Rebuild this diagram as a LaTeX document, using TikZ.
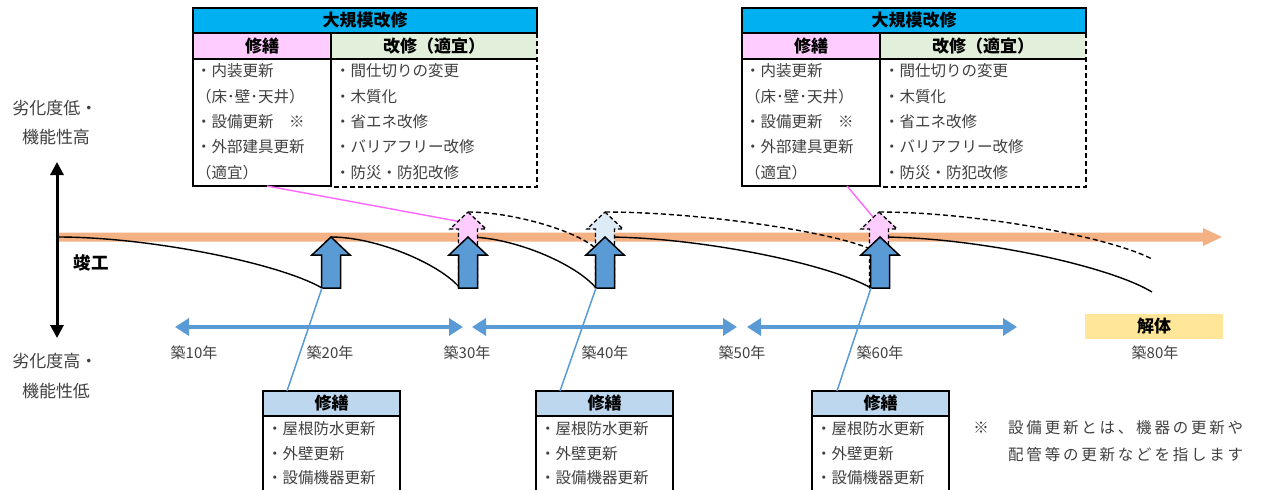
\documentclass[tikz,border=0pt]{standalone}
\usepackage{fontspec}
\setmainfont{Noto Sans CJK JP}
\newfontfamily\notefont[LetterSpace=18]{Noto Sans CJK JP}
\usetikzlibrary{arrows.meta}
\definecolor{cyanT}{HTML}{00B0F0}
\definecolor{pinkH}{HTML}{FFCCFF}
\definecolor{greenH}{HTML}{E2EFDA}
\definecolor{blueH}{HTML}{BDD7EE}
\definecolor{arrowBlue}{HTML}{5B9BD5}
\definecolor{lightBlue}{HTML}{DDEBF7}
\definecolor{barOrange}{HTML}{F4B183}
\definecolor{yellowH}{HTML}{FFE699}
\definecolor{pinkLine}{HTML}{FF66FF}
\definecolor{txtgray}{HTML}{404040}
\tikzset{
  boxline/.style={draw=black, line width=1.2pt},
  dashline/.style={draw=black, line width=1.5pt, dash pattern=on 5pt off 3pt},
  curveline/.style={draw=black, line width=1.4pt},
  dcurveline/.style={curveline, dash pattern=on 5pt off 3pt},
  blk/.style={fill=arrowBlue, draw=black, line width=1.5pt, line join=miter},
  dblk/.style={draw=black, line width=1.3pt, dash pattern=on 4pt off 2.5pt},
  pinkconn/.style={draw=pinkLine, line width=1.4pt},
  blueconn/.style={draw=arrowBlue, line width=1.5pt},
  tline/.style={draw=arrowBlue, line width=4pt, {Triangle[length=14pt,width=17pt]}-{Triangle[length=14pt,width=17pt]}},
  txt/.style={anchor=west, inner sep=0pt, font=\fontsize{15.5}{15.5}\selectfont, text=txtgray},
  hdr/.style={inner sep=0pt, font=\bfseries\fontsize{17}{17}\selectfont, text=black},
  yl/.style={inner sep=0pt, font=\fontsize{15}{15}\selectfont, text=txtgray},
  axl/.style={inner sep=0pt, font=\fontsize{17}{17}\selectfont, text=txtgray},
}
% block up-arrow: style, x, tip y, bottom y, head height, head half width
\newcommand\blkarrow[6]{%
  \draw[#1] (#2,#3) -- ({#2+#6},{#3+#5}) -- ({#2+9.5},{#3+#5}) -- ({#2+9.5},#4)
    -- ({#2-9.5},#4) -- ({#2-9.5},{#3+#5}) -- ({#2-#6},{#3+#5}) -- cycle;}
% decay curve: style, xs, ys, xe, ye
\newcommand\decay[5]{%
  \draw[#1] (#2,#3) .. controls ({#2+0.35*(#4-#2)},#3) and ({#2+0.84*(#4-#2)},{#3+0.52*(#5-#3)}) .. (#4,#5);}
% large renovation box: left x, name
\newcommand\renobox[2]{%
  \begin{scope}[shift={(#1,0)}]
    \fill[cyanT] (0,8) rectangle (344,33);
    \fill[pinkH] (0,33) rectangle (138,59);
    \fill[greenH] (138,33) rectangle (344,59);
    \draw[boxline] (0,8) rectangle (344,33);
    \draw[boxline] (0,33) rectangle (138,186);
    \draw[boxline] (138,59) -- (344,59);
    \draw[boxline] (0,59) -- (138,59);
    \draw[dashline] (344,33) -- (344,187) -- (138,187);
    \node[hdr] (#2t) at (172,20.5) {大規模改修};
    \node[hdr] (#2l) at (69,46) {修繕};
    \node[hdr] (#2r) at (241,46) {改修（適宜）};
    \node[txt] (#2a1) at (3,71) {・内装更新};
    \node[txt] (#2a2) at (3,96.5) {（床･壁･天井）};
    \node[txt] (#2a3) at (3,122) {・設備更新　※};
    \node[txt] (#2a4) at (3,147) {・外部建具更新};
    \node[txt] (#2a5) at (3,172.5) {（適宜）};
    \node[txt] (#2b1) at (142,71) {・間仕切りの変更};
    \node[txt] (#2b2) at (142,96.5) {・木質化};
    \node[txt] (#2b3) at (142,122) {・省エネ改修};
    \node[txt] (#2b4) at (142,147) {・バリアフリー改修};
    \node[txt] (#2b5) at (142,172.5) {・防災・防犯改修};
  \end{scope}}
% repair box: left x, name
\newcommand\repbox[2]{%
  \begin{scope}[shift={(#1,0)}]
    \fill[blueH] (0,391) rectangle (137,416);
    \draw[boxline] (0,500) -- (0,391) -- (137,391) -- (137,500);
    \draw[boxline] (0,416) -- (137,416);
    \node[hdr] (#2h) at (68.5,403.5) {修繕};
    \node[txt] (#2a) at (4,429) {・屋根防水更新};
    \node[txt] (#2b) at (4,453.5) {・外壁更新};
    \node[txt] (#2c) at (4,478) {・設備機器更新};
  \end{scope}}
\begin{document}
\begin{tikzpicture}[x=1pt,y=-1pt]
\clip (0,0) rectangle (1262,490);
\fill[white] (0,0) rectangle (1262,490);

% orange time bar
\fill[barOrange] (57,232.5) -- (1203,232.5) -- (1203,228) -- (1222,237) -- (1203,246) -- (1203,241.5) -- (57,241.5) -- cycle;

% solid decay curves
\decay{curveline}{58}{237}{322}{288}
\decay{curveline}{331}{237}{460}{288}
\decay{curveline}{468}{237}{596}{288}
\decay{curveline}{605}{237}{871}{288}
\decay{curveline}{880}{237}{1152}{292}

% dashed curves after large renovation
\decay{dcurveline}{468}{212}{594}{247}
\decay{dcurveline}{605}{212}{868}{248}
\decay{dcurveline}{879}{212}{1152}{259}

% boxes (top)
\renobox{193}{LA}
\renobox{742}{LB}

% pink connectors
\coordinate (pA) at (267,186);
\coordinate (pAe) at (462,222);
\coordinate (pB) at (847,186);
\coordinate (pBe) at (873,217);
\draw[pinkconn] (pA) -- (pAe);
\draw[pinkconn] (pB) -- (pBe);

% dashed block arrows (large renovation)
\blkarrow{dblk, fill=pinkH}{468}{212}{288}{17}{18}
\blkarrow{dblk, fill=lightBlue}{605}{212}{288}{17}{18}
\blkarrow{dblk, fill=pinkH}{879}{212}{288}{17}{18}

% solid block arrows (repair)
\blkarrow{blk}{331}{237}{288}{18}{19}
\blkarrow{blk}{468}{237}{288}{18}{19}
\blkarrow{blk}{605}{237}{288}{18}{19}
\blkarrow{blk}{880}{237}{288}{18}{19}
\coordinate (r20) at (322,288);
\coordinate (r40) at (596,288);
\coordinate (r60) at (871,288);

% repair boxes
\repbox{263}{RA}
\repbox{536}{RB}
\repbox{812}{RC}
\coordinate (cA) at (287,391);
\coordinate (cB) at (560,391);
\coordinate (cC) at (837,391);
\draw[blueconn] (cA) -- (r20);
\draw[blueconn] (cB) -- (r40);
\draw[blueconn] (cC) -- (r60);

% period arrows
\coordinate (t1a) at (175,327); \coordinate (t1b) at (463,327);
\coordinate (t2a) at (472,327); \coordinate (t2b) at (737,327);
\coordinate (t3a) at (747,327); \coordinate (t3b) at (1017,327);
\draw[tline] (t1a) -- (t1b);
\draw[tline] (t2a) -- (t2b);
\draw[tline] (t3a) -- (t3b);

% year labels
\node[yl] (y10) at (194,353) {築10年};
\node[yl] (y20) at (330,353) {築20年};
\node[yl] (y30) at (467,353) {築30年};
\node[yl] (y40) at (605,353) {築40年};
\node[yl] (y50) at (742,353) {築50年};
\node[yl] (y60) at (880,353) {築60年};
\node[yl] (y80) at (1155,353) {築80年};

% demolition
\fill[yellowH] (1085,314) rectangle (1223,339);
\node[hdr] (kaitai) at (1154,326.5) {解体};

% vertical axis
\coordinate (axB) at (57,338);
\coordinate (axT) at (57,162);
\draw[line width=3pt, {Triangle[length=13pt,width=13pt]}-{Triangle[length=13pt,width=13pt]}] (axB) -- (axT);
\node[axl] (ax1) at (55,108) {劣化度低・};
\node[axl] (ax2) at (56,137) {機能性高};
\node[axl] (ax3) at (55,361) {劣化度高・};
\node[axl] (ax4) at (56,391) {機能性低};
\node[inner sep=0pt, font=\bfseries\fontsize{17.5}{17.5}\selectfont] (shunko) at (91,263) {竣工};

% note
\node[yl, font=\fontsize{15.5}{15.5}\selectfont] (kome) at (981,428) {※};
\node[anchor=west, inner sep=0pt, text=txtgray, font=\notefont\fontsize{15.5}{15.5}\selectfont] (note1) at (1008,428) {設備更新とは、機器の更新や};
\node[anchor=west, inner sep=0pt, text=txtgray, font=\notefont\fontsize{15.5}{15.5}\selectfont] (note2) at (1008,455) {配管等の更新などを指します};
\end{tikzpicture}
\end{document}
